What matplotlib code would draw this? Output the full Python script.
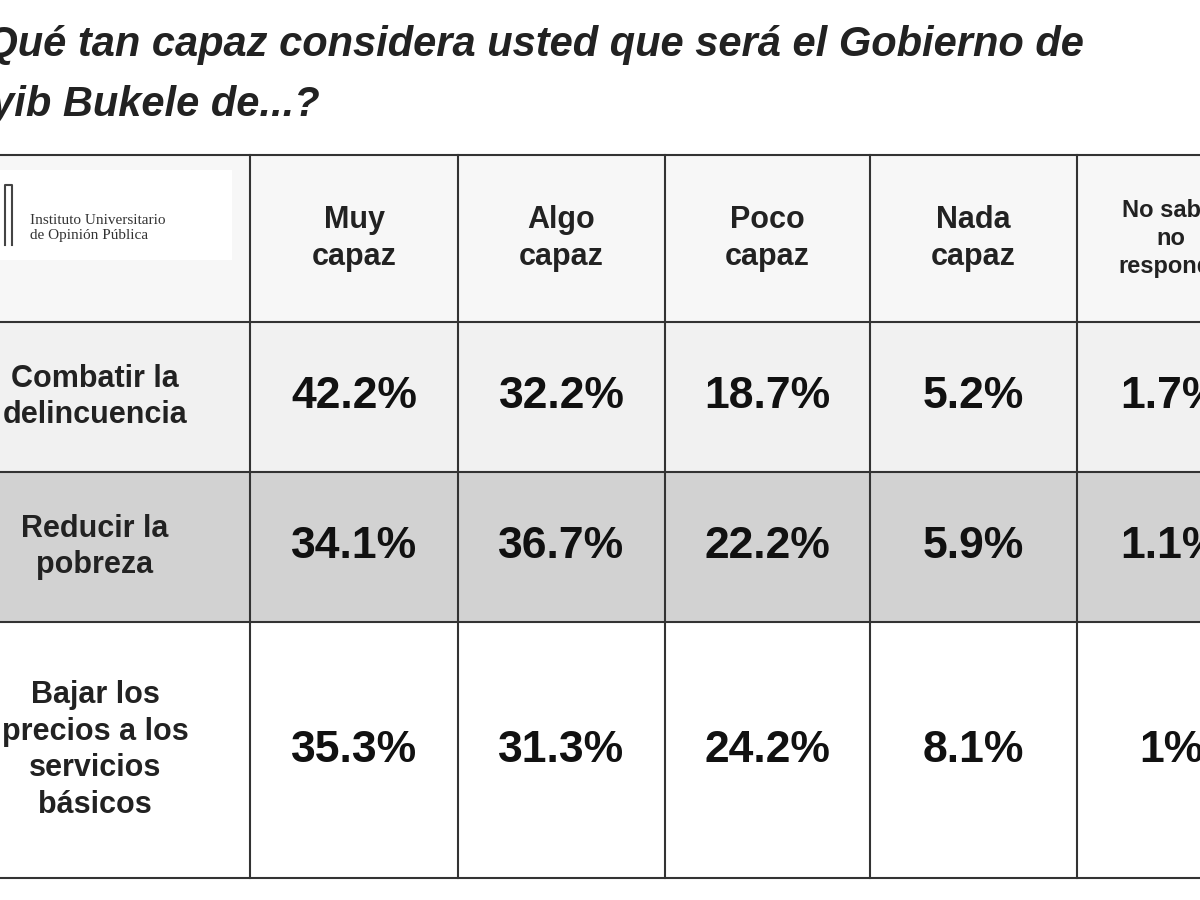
import matplotlib
matplotlib.use("Agg")
import matplotlib.pyplot as plt
from matplotlib.patches import Rectangle

title_lines = ["¿Qué tan capaz considera usted que será el Gobierno de", "Nayib Bukele de...?"]
columns = ["Muy\ncapaz", "Algo\ncapaz", "Poco\ncapaz", "Nada\ncapaz", "No sabe/\nno\nresponde"]
rows = ["Combatir la\ndelincuencia", "Reducir la\npobreza", "Bajar los\nprecios a los\nservicios\nbásicos"]
values = [
    ["42.2%", "32.2%", "18.7%", "5.2%", "1.7%"],
    ["34.1%", "36.7%", "22.2%", "5.9%", "1.1%"],
    ["35.3%", "31.3%", "24.2%", "8.1%", "1%"],
]

xs = [-40, 250, 458, 665, 870, 1077, 1205]
ys = [155, 322, 472, 622, 878]
row_bg = ["#f7f7f7", "#f1f1f1", "#d2d2d2", "#ffffff"]

plt.rcParams["font.family"] = "Liberation Sans"
fig = plt.figure(figsize=(12, 9), dpi=100)
ax = fig.add_axes([0, 0, 1, 1])
ax.set_xlim(0, 1200)
ax.set_ylim(900, 0)
ax.axis("off")

for r in range(4):
    ax.add_patch(Rectangle((xs[0], ys[r]), xs[-1] - xs[0], ys[r + 1] - ys[r],
                           facecolor=row_bg[r], edgecolor="none"))
for x in xs[1:-1]:
    ax.plot([x, x], [ys[0], ys[-1]], color="#333333", lw=1.5)
for y in ys:
    ax.plot([xs[0], xs[-1]], [y, y], color="#333333", lw=1.5)

ax.text(-40, 45, title_lines[0], fontsize=30, style="italic", weight="bold", color="#222222", va="center", ha="left")
ax.text(-62, 105, title_lines[1], fontsize=30, style="italic", weight="bold", color="#222222", va="center", ha="left")

# logo box
ax.add_patch(Rectangle((-5, 170), 237, 90, facecolor="white", edgecolor="none"))
ax.plot([5, 5, 12, 12], [245, 185, 185, 245], color="#444444", lw=1.5)
ax.text(30, 228, "Instituto Universitario\nde Opinión Pública", fontsize=11, family="Liberation Serif",
        color="#333333", va="center", ha="left", linespacing=1.2)

def cx(i):
    return (xs[i] + xs[i + 1]) / 2

for j, c in enumerate(columns):
    x = cx(j + 1) + (30 if j == 4 else 0)
    fs = 17 if j == 4 else 22
    ax.text(x, (ys[0] + ys[1]) / 2, c, fontsize=fs, weight="bold", ha="center", va="center",
            color="#222222", linespacing=1.3)

for i, rl in enumerate(rows):
    ym = (ys[i + 1] + ys[i + 2]) / 2
    ax.text(95, ym, rl, fontsize=22, weight="bold", ha="center", va="center", color="#222222", linespacing=1.3)
    for j, v in enumerate(values[i]):
        x = cx(j + 1) + (30 if j == 4 else 0)
        ax.text(x, ym, v, fontsize=32, weight="bold", ha="center", va="center", color="#111111")

fig.savefig("out.png", dpi=100)
